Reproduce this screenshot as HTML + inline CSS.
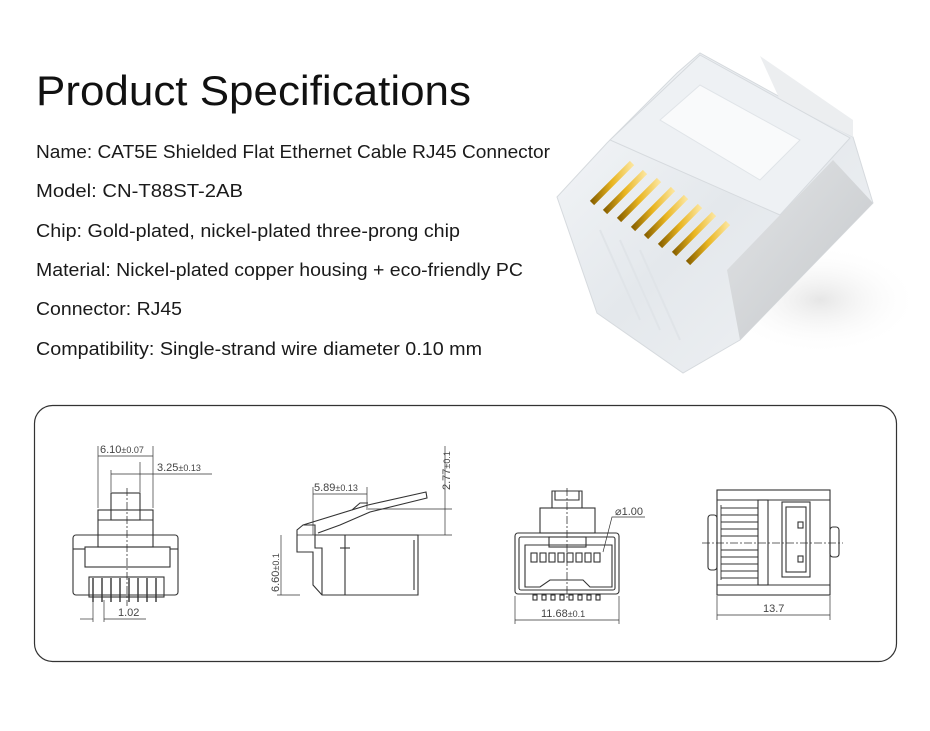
<!DOCTYPE html>
<html><head><meta charset="utf-8"><style>
html,body{margin:0;padding:0;background:#fff;}
svg{display:block;}
</style></head><body>
<svg width="930" height="731" viewBox="0 0 930 731" xmlns="http://www.w3.org/2000/svg">
<defs>
<linearGradient id="clr" x1="0" y1="0" x2="1" y2="1"><stop offset="0" stop-color="#f6f8fa"/><stop offset="0.5" stop-color="#e4e8ec"/><stop offset="1" stop-color="#f1f3f5"/></linearGradient>
<linearGradient id="met" x1="0" y1="0" x2="1" y2="1"><stop offset="0" stop-color="#e2e4e6"/><stop offset="1" stop-color="#c4c7ca"/></linearGradient>
<linearGradient id="gold" x1="0" y1="0" x2="1" y2="0"><stop offset="0" stop-color="#8a6200"/><stop offset="0.5" stop-color="#e9b520"/><stop offset="1" stop-color="#fbe49a"/></linearGradient>
<radialGradient id="sh" cx="0.5" cy="0.5" r="0.5"><stop offset="0" stop-color="#e6e6e6"/><stop offset="1" stop-color="#fff" stop-opacity="0"/></radialGradient>
</defs>
<g font-family="Liberation Sans, sans-serif" fill="#111">
<text x="36" y="105" font-size="42" textLength="435" lengthAdjust="spacingAndGlyphs">Product Specifications</text>
<g font-size="18" fill="#1a1a1a">
<text x="36" y="158" textLength="514" lengthAdjust="spacingAndGlyphs">Name: CAT5E Shielded Flat Ethernet Cable RJ45 Connector</text>
<text x="36" y="197" textLength="207" lengthAdjust="spacingAndGlyphs">Model: CN-T88ST-2AB</text>
<text x="36" y="237" textLength="424" lengthAdjust="spacingAndGlyphs">Chip: Gold-plated, nickel-plated three-prong chip</text>
<text x="36" y="276" textLength="487" lengthAdjust="spacingAndGlyphs">Material: Nickel-plated copper housing + eco-friendly PC</text>
<text x="36" y="315" textLength="146" lengthAdjust="spacingAndGlyphs">Connector: RJ45</text>
<text x="36" y="355" textLength="446" lengthAdjust="spacingAndGlyphs">Compatibility: Single-strand wire diameter 0.10 mm</text>
</g>
</g>
<!-- product -->
<ellipse cx="820" cy="300" rx="100" ry="55" fill="url(#sh)"/>
<polygon points="677,73 700,53 853,137 873,203 740,340 683,373 597,313 557,197 607,143" fill="url(#clr)" stroke="#d6dade"/>
<polygon points="833,160 873,203 740,340 727,270" fill="url(#met)"/>
<polygon points="760,56 853,120 853,137 780,100" fill="#eceef0"/>
<polygon points="610,140 700,55 850,138 780,215" fill="#eef1f4" stroke="#d6dade"/>
<polygon points="660,120 700,85 800,140 760,180" fill="#f9fafb" stroke="#e0e4e8"/>
<g stroke="url(#gold)" stroke-width="6" stroke-linecap="butt">
<line x1="592" y1="203" x2="632" y2="163"/><line x1="605" y1="212" x2="645" y2="172"/>
<line x1="619" y1="220" x2="659" y2="180"/><line x1="633" y1="229" x2="673" y2="189"/>
<line x1="646" y1="237" x2="686" y2="197"/><line x1="660" y1="246" x2="700" y2="206"/>
<line x1="674" y1="254" x2="714" y2="214"/><line x1="688" y1="263" x2="728" y2="223"/>
</g>
<g stroke="#e0e4e8" stroke-width="2"><line x1="600" y1="230" x2="640" y2="320"/><line x1="620" y1="240" x2="660" y2="330"/><line x1="640" y1="250" x2="680" y2="340"/></g>
<!-- box -->
<rect x="34.5" y="405.5" width="862" height="256" rx="18" fill="none" stroke="#333" stroke-width="1.2"/>
<g fill="none" stroke="#333" stroke-width="1.1">
<rect x="73" y="535" width="105" height="60" rx="3"/>
<rect x="85" y="547" width="85" height="20"/>
<line x1="73" y1="549" x2="85" y2="549"/><line x1="170" y1="549" x2="178" y2="549"/>
<rect x="98" y="510" width="55" height="37"/>
<line x1="98" y1="520" x2="153" y2="520"/>
<rect x="111" y="493" width="29" height="27"/>
<rect x="89" y="577" width="75" height="20"/>
<g stroke-width="1.4"><line x1="93" y1="578" x2="93" y2="602"/><line x1="102" y1="578" x2="102" y2="602"/><line x1="111" y1="578" x2="111" y2="602"/><line x1="120" y1="578" x2="120" y2="602"/><line x1="129" y1="578" x2="129" y2="602"/><line x1="138" y1="578" x2="138" y2="602"/><line x1="147" y1="578" x2="147" y2="602"/><line x1="156" y1="578" x2="156" y2="602"/></g>
<line x1="127" y1="488" x2="127" y2="606" stroke-dasharray="8,2,2,2" stroke-width="0.8"/>
<line x1="98" y1="446" x2="98" y2="508" stroke-width="0.7"/><line x1="153" y1="446" x2="153" y2="508" stroke-width="0.7"/>
<line x1="98" y1="456" x2="153" y2="456" stroke-width="0.7"/>
<line x1="111" y1="470" x2="111" y2="492" stroke-width="0.7"/><line x1="140" y1="462" x2="140" y2="492" stroke-width="0.7"/>
<line x1="111" y1="474" x2="212" y2="474" stroke-width="0.7"/>
<line x1="93" y1="600" x2="93" y2="622" stroke-width="0.7"/><line x1="104" y1="600" x2="104" y2="622" stroke-width="0.7"/>
<line x1="80" y1="619" x2="93" y2="619" stroke-width="0.7"/><line x1="104" y1="619" x2="146" y2="619" stroke-width="0.7"/>
<path d="M315,535 H418 V595 H322 L313,585 V552 H297 V530 L303,525 H315 Z"/>
<path d="M315,535 V548 H322 V595"/>
<path d="M340,548 H345 V535 M345,548 V595"/>
<line x1="350" y1="548" x2="340" y2="548"/>
<line x1="414" y1="540" x2="414" y2="590"/>
<path d="M303,525 L368,505 L426,492 L427,498 L370,512 L340,525 L318,533"/>
<path d="M352,510 L360,503 L368,503"/>
<line x1="313" y1="487" x2="313" y2="535" stroke-width="0.7"/><line x1="367" y1="487" x2="367" y2="510" stroke-width="0.7"/>
<line x1="313" y1="494" x2="367" y2="494" stroke-width="0.7"/>
<line x1="368" y1="509" x2="452" y2="509" stroke-width="0.7"/><line x1="297" y1="535" x2="452" y2="535" stroke-width="0.7"/>
<line x1="445" y1="446" x2="445" y2="535" stroke-width="0.7"/>
<line x1="281" y1="535" x2="281" y2="595" stroke-width="0.7"/><line x1="277" y1="595" x2="300" y2="595" stroke-width="0.7"/>
<rect x="515" y="533" width="104" height="61" rx="3"/>
<rect x="519" y="537" width="96" height="53" rx="2"/>
<path d="M525,545 H612 V587 H590 L583,580 H550 L540,587 H525 Z"/>
<rect x="540" y="508" width="55" height="25"/>
<path d="M552,508 V491 H582 V508 M555,491 V500 H579 V491"/>
<rect x="549" y="537" width="37" height="10"/>
<g><rect x="531" y="553" width="6" height="9"/><rect x="540" y="553" width="6" height="9"/><rect x="549" y="553" width="6" height="9"/><rect x="558" y="553" width="6" height="9"/><rect x="567" y="553" width="6" height="9"/><rect x="576" y="553" width="6" height="9"/><rect x="585" y="553" width="6" height="9"/><rect x="594" y="553" width="6" height="9"/></g>
<g><rect x="533" y="595" width="4" height="5"/><rect x="542" y="595" width="4" height="5"/><rect x="551" y="595" width="4" height="5"/><rect x="560" y="595" width="4" height="5"/><rect x="569" y="595" width="4" height="5"/><rect x="578" y="595" width="4" height="5"/><rect x="587" y="595" width="4" height="5"/><rect x="596" y="595" width="4" height="5"/></g>
<line x1="567" y1="488" x2="567" y2="600" stroke-dasharray="8,2,2,2" stroke-width="0.8"/>
<path d="M645,517 H612 L603,552" stroke-width="0.7"/>
<line x1="515" y1="596" x2="515" y2="624" stroke-width="0.7"/><line x1="619" y1="596" x2="619" y2="624" stroke-width="0.7"/>
<line x1="515" y1="620" x2="619" y2="620" stroke-width="0.7"/>
<rect x="717" y="490" width="113" height="105"/>
<rect x="708" y="515" width="9" height="55" rx="3"/>
<rect x="830" y="527" width="9" height="30" rx="3"/>
<rect x="758" y="500" width="10" height="85"/>
<line x1="717" y1="500" x2="830" y2="500"/><line x1="717" y1="585" x2="830" y2="585"/>
<rect x="782" y="502" width="28" height="75"/>
<rect x="786" y="507" width="20" height="65"/>
<rect x="798" y="522" width="5" height="6"/><rect x="798" y="556" width="5" height="6"/>
<g stroke-width="0.9"><line x1="721" y1="508" x2="758" y2="508"/><line x1="721" y1="515" x2="758" y2="515"/><line x1="721" y1="522" x2="758" y2="522"/><line x1="721" y1="529" x2="758" y2="529"/><line x1="721" y1="536" x2="758" y2="536"/><line x1="721" y1="550" x2="758" y2="550"/><line x1="721" y1="557" x2="758" y2="557"/><line x1="721" y1="564" x2="758" y2="564"/><line x1="721" y1="571" x2="758" y2="571"/><line x1="721" y1="578" x2="758" y2="578"/><line x1="721" y1="505" x2="721" y2="580"/></g>
<line x1="702" y1="543" x2="843" y2="543" stroke-dasharray="8,2,2,2" stroke-width="0.8"/>
<line x1="717" y1="596" x2="717" y2="620" stroke-width="0.7"/><line x1="830" y1="596" x2="830" y2="620" stroke-width="0.7"/>
<line x1="717" y1="615" x2="830" y2="615" stroke-width="0.7"/>
</g>
<g font-family="Liberation Sans, sans-serif" font-size="11" fill="#444">
<text x="100" y="453">6.10<tspan font-size="9">±0.07</tspan></text>
<text x="157" y="471">3.25<tspan font-size="9">±0.13</tspan></text>
<text x="118" y="616">1.02</text>
<text x="314" y="491">5.89<tspan font-size="9">±0.13</tspan></text>
<text transform="translate(450,490) rotate(-90)">2.77<tspan font-size="9">±0.1</tspan></text>
<text transform="translate(279,592) rotate(-90)">6.60<tspan font-size="9">±0.1</tspan></text>
<text x="615" y="515">⌀1.00</text>
<text x="541" y="617">11.68<tspan font-size="9">±0.1</tspan></text>
<text x="763" y="612">13.7</text>
</g>
</svg>
</body></html>
